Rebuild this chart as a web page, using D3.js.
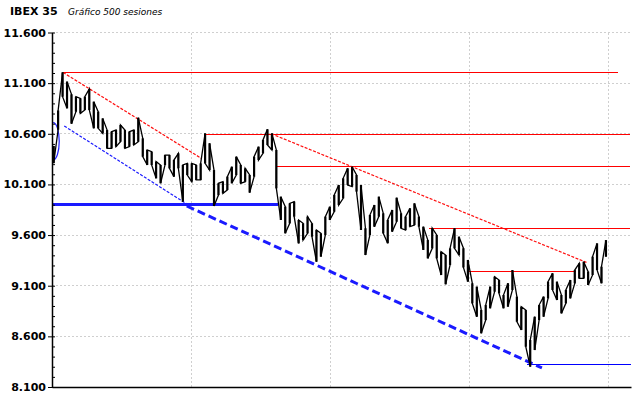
<!DOCTYPE html>
<html><head><meta charset="utf-8">
<script src="https://cdn.jsdelivr.net/npm/d3@7"></script>
<style>body{margin:0;background:#fff}svg{display:block}</style>
</head><body>
<script>
// ---- DATA ----
const sessionsPerBin = 4;
const highs = [10480,10830,11207,11115,10990,10966,10950,10966,11042,10917,
10818,10752,10637,10621,10637,10687,10637,10621,10637,10759,
10555,10440,10423,10325,10292,10390,10390,10341,10407,10292,
10308,10308,10292,10308,10604,10506,10242,10111,10127,10177,
10275,10374,10292,10259,10193,10374,10473,10539,10644,10604,
10440,9979,9880,9913,9930,9749,9716,9782,9716,9650,
9617,9782,9880,9996,10094,10160,10259,10275,10193,10094,
9667,9798,9897,9979,9815,9749,9848,9969,9815,9782,
9864,9913,9782,9683,9551,9668,9601,9436,9403,9469,
9667,9584,9470,9354,9124,9091,8860,8909,9091,9189,
9156,9008,9124,9255,8992,8893,8860,8564,8794,8909,
8992,9140,9222,9140,9008,9058,9156,9255,9321,9337,
9239,9387,9518,9288,9550];
const lows = [10310,10640,10966,10851,10700,10818,10802,10835,10835,10654,
10654,10604,10456,10456,10473,10522,10456,10473,10489,10522,
10374,10292,10292,10160,10111,10292,10259,10177,10259,9930,
10193,10127,10144,10144,10308,10242,9887,9995,10012,10045,
10111,10193,10111,10127,10019,10177,10341,10407,10489,10440,
10061,9749,9617,9716,9782,9518,9551,9617,9584,9337,
9387,9601,9749,9831,9897,9963,10094,10078,10029,9650,
9403,9601,9683,9782,9617,9519,9634,9732,9667,9650,
9683,9699,9683,9453,9370,9469,9370,9206,9114,9305,
9469,9403,9280,9140,8926,8794,8630,8761,8877,9041,
9025,8877,8893,9058,8745,8663,8498,8301,8465,8761,
8794,8975,9058,8959,8827,8926,8975,9123,9173,9173,
9107,9206,9255,9124,9387];
const yTicks = [8100, 8600, 9100, 9600, 10100, 10600, 11100, 11600];
const gridSessions = [125, 250, 375, 500];
// horizontal levels (value, first session, last session)
const levelValues = [11205, 10595, 10275, 9668, 9240, 9904, 8324];
const levelStart  = [10, 137, 201, 339, 374, 0, 427];
const levelEnd    = [508, 519, 519, 519, 471, 203, 520];
const levelKind   = ["red","red","red","red","red","blueThick","blue"];
// trend lines (session0, value0) -> (session1, value1)
const trendS0 = [10, 197, 11, 121];
const trendV0 = [11205, 10600, 10677, 9887];
const trendS1 = [134, 480, 121, 440];
const trendV1 = [10358, 9330, 9907, 8288];
const trendKind = ["redDot","redDot","blueDot","blueDash"];
// bracket arc at start
const arcSession = 1, arcReach = 6.5, arcLow = 10341, arcHigh = 10710;

// ---- CHART ----
const W = 640, H = 398;
const svg = d3.select("body").append("svg").attr("width", W).attr("height", H);
const x = d3.scaleLinear().domain([0, 520]).range([52, 631]);
const y = d3.scaleLinear().domain([8100, 11600]).range([387, 32.5]);
const loc = d3.formatLocale({decimal: ",", thousands: ".", grouping: [3], currency: ["", "€"]});
const fmt = loc.format(",.0f");

// title
svg.append("text").attr("x", 10).attr("y", 15).attr("font-family", "DejaVu Sans")
  .attr("font-weight", "bold").attr("font-size", 11).text("IBEX 35");
svg.append("text").attr("x", 68).attr("y", 15).attr("font-family", "DejaVu Sans")
  .attr("font-style", "italic").attr("font-size", 9).text("Gráfico 500 sesiones");

// grid
const grid = svg.append("g").attr("stroke", "#cfcfcf").attr("stroke-dasharray", "2,2")
  .attr("shape-rendering", "crispEdges");
grid.selectAll("line.h").data(yTicks.slice(1)).join("line").attr("class", "h")
  .attr("x1", x(0)).attr("x2", x(520)).attr("y1", d => y(d)).attr("y2", d => y(d));
grid.selectAll("line.v").data(gridSessions).join("line").attr("class", "v")
  .attr("x1", d => x(d)).attr("x2", d => x(d)).attr("y1", y(11600)).attr("y2", y(8100));

// levels
const levelStyle = {
  red: {c: "#ff0000", w: 1.2},
  blueThick: {c: "#1a1aff", w: 3},
  blue: {c: "#0000ff", w: 1.5}
};
svg.append("g").selectAll("line").data(levelValues).join("line")
  .attr("x1", (d, i) => x(levelStart[i])).attr("x2", (d, i) => x(levelEnd[i]))
  .attr("y1", d => y(d)).attr("y2", d => y(d))
  .attr("stroke", (d, i) => levelStyle[levelKind[i]].c)
  .attr("stroke-width", (d, i) => levelStyle[levelKind[i]].w)
  .attr("shape-rendering", "crispEdges");

// trends
const trendStyle = {
  redDot: {c: "#ff1010", w: 1.2, dash: "3,1.5"},
  blueDot: {c: "#1a1aff", w: 1.2, dash: "3,1.5"},
  blueDash: {c: "#1a1aff", w: 3, dash: "8,4"}
};
svg.append("g").selectAll("line").data(trendS0).join("line")
  .attr("x1", (d, i) => x(trendS0[i])).attr("y1", (d, i) => y(trendV0[i]))
  .attr("x2", (d, i) => x(trendS1[i])).attr("y2", (d, i) => y(trendV1[i]))
  .attr("stroke", (d, i) => trendStyle[trendKind[i]].c)
  .attr("stroke-width", (d, i) => trendStyle[trendKind[i]].w)
  .attr("stroke-dasharray", (d, i) => trendStyle[trendKind[i]].dash);

// arc
const ry = (y(arcLow) - y(arcHigh)) / 2, rx = x(arcReach) - x(arcSession);
svg.append("path")
  .attr("d", `M${x(arcSession)},${y(arcLow)} A${rx},${ry} 0 0 0 ${x(arcSession)},${y(arcHigh)}`)
  .attr("fill", "none").attr("stroke", "#2020ff").attr("stroke-width", 1.2);

// price: high-low bars per block plus connecting trace
const px = k => x(k * sessionsPerBin + 1.5);
svg.append("g").selectAll("line").data(highs).join("line")
  .attr("x1", (d, k) => px(k)).attr("x2", (d, k) => px(k))
  .attr("y1", d => y(d)).attr("y2", (d, k) => y(lows[k]))
  .attr("stroke", "#000").attr("stroke-width", 2.2);
const pts = [];
highs.forEach((h, k) => {
  if (k % 2 === 0) { pts.push([px(k), y(h)], [px(k), y(lows[k])]); }
  else { pts.push([px(k), y(lows[k])], [px(k), y(h)]); }
});
svg.append("path").attr("d", d3.line()(pts)).attr("fill", "none")
  .attr("stroke", "#000").attr("stroke-width", 1.3);

// axes
const ax = svg.append("g").attr("transform", `translate(${x(0)},0)`)
  .call(d3.axisLeft(y).tickValues(yTicks).tickFormat(fmt).tickSize(4).tickSizeOuter(0).tickPadding(2));
ax.selectAll("text").attr("font-family", "DejaVu Sans").attr("font-weight", "bold")
  .attr("font-size", 11).attr("fill", "#000");
ax.select(".domain").attr("stroke-width", 1.5);
svg.append("g").attr("transform", `translate(${x(0)},0)`)
  .call(d3.axisRight(y).tickValues(d3.range(8100, 11601, 100)).tickFormat("").tickSize(3).tickSizeOuter(0))
  .select(".domain").remove();
svg.append("g").attr("transform", `translate(0,${y(8100)})`)
  .call(d3.axisBottom(x).tickValues([]).tickSizeOuter(0))
  .select(".domain").attr("stroke-width", 1.5);
</script>
</body></html>
